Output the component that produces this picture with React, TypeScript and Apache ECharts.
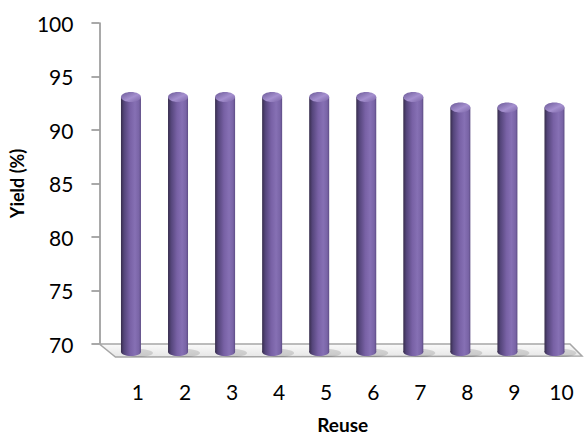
import React, { useEffect, useRef } from "react";
import * as echarts from "echarts";

const categories = ["1", "2", "3", "4", "5", "6", "7", "8", "9", "10"];
const yieldValues = [93, 93, 93, 93, 93, 93, 93, 92, 92, 92];
const yMin = 70;
const yMax = 100;
const yStep = 5;

export default function App() {
  const ref = useRef<HTMLDivElement>(null);
  useEffect(() => {
    document.body.style.margin = "0";
    const chart = echarts.init(ref.current!, null, { renderer: "svg" });
    const font = "Lato, 'Open Sans', sans-serif";
    const bodyGrad = new echarts.graphic.LinearGradient(0, 0, 1, 0, [
      { offset: 0, color: "#372d4c" },
      { offset: 0.15, color: "#54457a" },
      { offset: 0.45, color: "#7861a5" },
      { offset: 0.7, color: "#8670b4" },
      { offset: 0.9, color: "#7964a6" },
      { offset: 1, color: "#5d4c84" },
    ]);
    const capGrad = new echarts.graphic.LinearGradient(0, 0, 1, 1, [
      { offset: 0, color: "#6a5896" },
      { offset: 0.55, color: "#a590cf" },
      { offset: 1, color: "#7a64a6" },
    ]);
    const floorGrad = new echarts.graphic.LinearGradient(0, 0, 0, 1, [
      { offset: 0, color: "#fafafa" },
      { offset: 1, color: "#e6e6e6" },
    ]);
    const option: any = {
      animation: false,
      grid: { left: 99, right: 6, top: 23, bottom: 96 },
      xAxis: {
        type: "category",
        data: categories,
        axisLine: { show: false },
        axisTick: { show: false },
        axisLabel: {
          fontFamily: font,
          fontSize: 21,
          color: "#000",
          margin: 37,
          padding: [0, 0, 0, 14],
        },
        name: "Reuse",
        nameLocation: "middle",
        nameGap: 71,
        nameTextStyle: { fontFamily: font, fontSize: 19, fontWeight: "bold", color: "#000" },
      },
      yAxis: {
        type: "value",
        min: yMin,
        max: yMax,
        interval: yStep,
        offset: 8,
        splitLine: { show: false },
        axisLine: { show: true, lineStyle: { color: "#8c8c8c", width: 1.5 } },
        axisTick: { show: true, length: 8, lineStyle: { color: "#8c8c8c", width: 1.5 } },
        axisLabel: { fontFamily: font, fontSize: 21, color: "#000", margin: 26 },
        name: "Yield (%)",
        nameLocation: "middle",
        nameGap: 65,
        nameTextStyle: { fontFamily: font, fontSize: 18, fontWeight: "bold", color: "#000" },
      },
      series: [
        {
          type: "custom",
          z: 1,
          clip: false,
          silent: true,
          data: [[0, yMin]],
          renderItem: (params: any) => {
            const cs = params.coordSys;
            const b = cs.y + cs.height;
            return {
              type: "polygon",
              shape: {
                points: [
                  [cs.x - 8, b],
                  [cs.x + cs.width - 8, b],
                  [cs.x + cs.width + 4, b + 12],
                  [cs.x + 8, b + 13],
                ],
              },
              style: { fill: floorGrad, stroke: "#a6a6a6", lineWidth: 1.5 },
            };
          },
        },
        {
          type: "custom",
          z: 2,
          clip: false,
          data: yieldValues.map((v, i) => [i, v]),
          renderItem: (params: any, api: any) => {
            const top = api.coord([api.value(0), api.value(1)]);
            const base = api.coord([api.value(0), yMin]);
            const w = 20;
            const rx = w / 2;
            const ry = 4;
            const cx = top[0];
            const yTop = top[1] - 1;
            const yBot = base[1] + 8;
            return {
              type: "group",
              children: [
                {
                  type: "ellipse",
                  shape: { cx: cx + 7, cy: yBot + 1, rx: 15, ry: 4 },
                  style: { fill: "rgba(0,0,0,0.13)" },
                },
                {
                  type: "ellipse",
                  shape: { cx, cy: yBot, rx, ry },
                  style: { fill: bodyGrad },
                },
                {
                  type: "rect",
                  shape: { x: cx - rx, y: yTop, width: w, height: yBot - yTop },
                  style: { fill: bodyGrad },
                },
                {
                  type: "ellipse",
                  shape: { cx, cy: yTop, rx, ry: ry + 1 },
                  style: { fill: capGrad },
                },
              ],
            };
          },
        },
      ],
    };
    chart.setOption(option);
    return () => chart.dispose();
  }, []);
  return <div ref={ref} style={{ width: 584, height: 440 }} />;
}
